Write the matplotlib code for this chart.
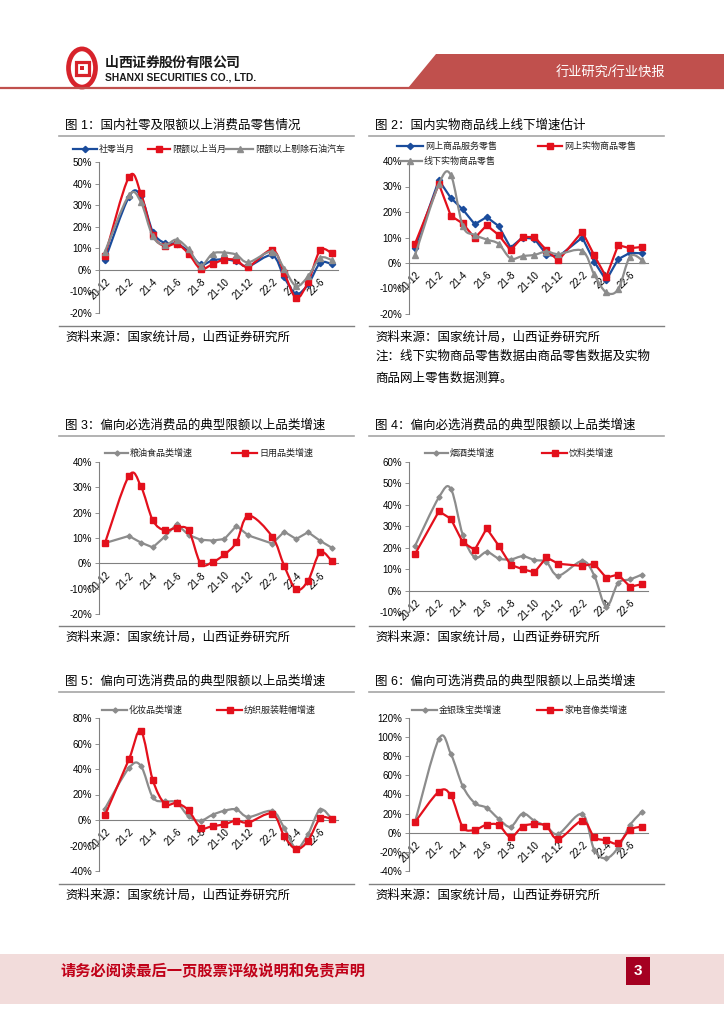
import matplotlib
matplotlib.use('Agg')
import matplotlib.pyplot as plt
import numpy as np
from matplotlib.path import Path
from matplotlib.patches import PathPatch, Polygon, Circle, Rectangle
from matplotlib.lines import Line2D

plt.rcParams['font.family'] = ['Liberation Sans', 'Noto Sans CJK SC']
plt.rcParams['axes.unicode_minus'] = False

W, H = 724, 1024

# category axis: Jan is merged into Feb, so 21-1 and 22-1 carry no value
months = ['20-12', '21-1', '21-2', '21-3', '21-4', '21-5', '21-6', '21-7', '21-8',
          '21-9', '21-10', '21-11', '21-12', '22-1', '22-2', '22-3', '22-4',
          '22-5', '22-6', '22-7']
tick_labels = months[::2]
data_months = [m for m in months if m not in ('21-1', '22-1')]

# chart 1
retail_total = [4.6, 33.8, 34.2, 17.7, 12.4, 12.1, 8.5, 2.5, 4.4, 4.9, 3.9, 1.7,
                6.7, -3.5, -11.1, -6.7, 3.1, 2.7]
retail_above = [6.5, 43.0, 35.5, 16.3, 11.0, 12.0, 7.5, 0.5, 2.6, 4.8, 4.5, 1.5,
                9.3, -1.5, -13.0, -5.6, 9.0, 7.6]
retail_above_ex = [8.5, 34.5, 31.5, 15.5, 11.5, 14.0, 9.5, 2.0, 7.5, 8.0, 7.0, 3.5,
                   8.5, 0.5, -7.5, -3.0, 5.5, 4.5]
# chart 2
online_all = [5.8, 32.5, 25.5, 21.0, 15.2, 18.0, 14.5, 6.0, 10.0, 9.5, 3.3, 2.5,
              10.0, 0.5, -6.8, 1.5, 4.0, 3.8]
online_goods = [7.5, 31.0, 18.5, 15.5, 9.8, 14.8, 11.0, 5.0, 10.2, 10.2, 5.0, 1.0,
                12.3, 3.0, -5.5, 7.0, 5.8, 6.3]
offline_goods = [3.0, 31.0, 34.5, 14.5, 11.0, 9.2, 7.5, 1.8, 2.7, 3.2, 4.5, 3.5,
                 4.8, -4.5, -11.5, -10.3, 2.5, 1.2]
# chart 3
grain_oil = [8.0, 10.8, 8.2, 6.3, 10.5, 15.5, 11.2, 9.3, 9.0, 9.6, 14.8, 11.0,
             7.8, 12.5, 9.6, 12.3, 8.9, 6.1]
daily_use = [8.0, 34.5, 30.5, 17.0, 13.0, 14.0, 13.0, 0.0, 0.5, 3.5, 8.3, 18.8,
             10.5, -1.0, -10.3, -6.8, 4.3, 0.8]
# chart 4
tobacco = [20.8, 43.5, 47.5, 26.0, 15.5, 18.0, 15.0, 14.5, 16.0, 14.3, 13.3, 7.0,
           13.8, 7.0, -7.5, 3.5, 5.2, 7.5]
beverage = [17.0, 37.0, 33.5, 22.5, 19.0, 29.0, 21.0, 12.0, 10.0, 8.5, 15.5, 12.5,
            11.5, 12.5, 6.0, 7.5, 1.8, 3.0]
# chart 5
cosmetics = [9.0, 40.7, 42.5, 17.8, 14.6, 13.8, 2.8, -0.5, 4.1, 7.3, 8.3, 2.4,
             7.0, -6.3, -22.3, -11.0, 8.1, 0.7]
clothing = [3.8, 47.5, 69.9, 31.4, 12.8, 13.2, 7.5, -6.0, -4.8, -3.3, -0.5, -2.0,
            4.9, -12.7, -22.8, -16.2, 1.2, 0.8]
# chart 6
jewelry = [11.0, 98.1, 82.5, 48.7, 31.1, 26.1, 14.6, 6.2, 20.0, 12.5, 6.8, -1.2,
           19.5, -17.9, -26.7, -15.5, 8.0, 22.1]
appliance = [11.0, 43.0, 39.0, 6.0, 3.0, 8.5, 8.0, -4.5, 6.5, 9.0, 7.0, -6.5,
             12.5, -4.5, -8.0, -11.0, 3.0, 6.5]

BLUE = '#1A4C9C'
RED = '#E3101C'
GRAY = '#8C8C8C'
BANNER = '#C0504D'
xpos = [months.index(m) for m in data_months]


def fx(x):
    return x / W


def fy(y):
    return 1 - y / H


def smooth_path(xs, ys):
    pts = np.column_stack([xs, ys]).astype(float)
    n = len(pts)
    verts, codes = [pts[0]], [Path.MOVETO]
    for i in range(n - 1):
        p0 = pts[i - 1] if i > 0 else pts[i]
        p1, p2 = pts[i], pts[i + 1]
        p3 = pts[i + 2] if i + 2 < n else pts[i + 1]
        verts += [p1 + (p2 - p0) / 6, p2 - (p3 - p1) / 6, p2]
        codes += [Path.CURVE4] * 3
    return Path(verts, codes)


def add_chart(fig, left, top, right, bottom, ylim, step):
    ax = fig.add_axes([fx(left), fy(bottom), (right - left) / W, (bottom - top) / H])
    ax.set_xlim(-0.5, len(months) - 0.5)
    ax.set_ylim(*ylim)
    ax.patch.set_alpha(0)
    for s in ('top', 'right'):
        ax.spines[s].set_visible(False)
    ax.spines['left'].set_color('#808080')
    ax.spines['left'].set_linewidth(0.8)
    ax.spines['bottom'].set_position(('data', 0))
    ax.spines['bottom'].set_color('#808080')
    ax.spines['bottom'].set_linewidth(0.8)
    yt = np.arange(ylim[0], ylim[1] + 1, step)
    ax.set_yticks(yt)
    ax.set_yticklabels([f'{v:.0f}%' for v in yt])
    ax.tick_params(axis='y', direction='out', length=3, width=0.6, color='#808080',
                   labelsize=7, pad=2)
    ax.set_xticks(range(0, len(months), 2))
    ax.set_xticklabels(tick_labels, rotation=45, ha='right', va='top',
                       rotation_mode='anchor')
    ax.tick_params(axis='x', length=0, labelsize=7, pad=5)
    return ax


def draw_series(ax, values, color, marker, ms, smooth, z):
    if smooth:
        ax.add_patch(PathPatch(smooth_path(xpos, values), fill=False, edgecolor=color,
                               lw=1.6, zorder=z, joinstyle='round', capstyle='round'))
    else:
        ax.plot(xpos, values, color=color, lw=1.6, zorder=z, solid_joinstyle='round')
    ax.plot(xpos, values, ls='none', marker=marker, ms=ms, color=color, zorder=z + 0.5)


def legend_item(fig, x0, x1, y, color, marker, ms, text):
    fig.add_artist(Line2D([fx(x0), fx(x1)], [fy(y), fy(y)], color=color, lw=1.6,
                          transform=fig.transFigure))
    fig.add_artist(Line2D([fx((x0 + x1) / 2)], [fy(y)], marker=marker, ms=ms,
                          color=color, transform=fig.transFigure))
    fig.text(fx(x1 + 2), fy(y), text, fontsize=6.5, va='center', ha='left',
             color='#222222')


def frame_text(fig, x, title_y, source_y, title):
    fig.text(fx(x + 6), fy(title_y), title, fontsize=9, va='center', ha='left')
    fig.add_artist(Line2D([fx(x), fx(x + 295)], [fy(title_y + 10)] * 2,
                          color='#A6A6A6', lw=1.2, transform=fig.transFigure))
    fig.add_artist(Line2D([fx(x), fx(x + 295)], [fy(source_y - 11)] * 2,
                          color='#808080', lw=1.0, transform=fig.transFigure))
    fig.text(fx(x + 6), fy(source_y), '资料来源：国家统计局，山西证券研究所', fontsize=9,
             va='center', ha='left')


fig = plt.figure(figsize=(W / 100, H / 100), dpi=100)

# header
fig.add_artist(Circle((fx(82), fy(68)), 13.5 / W, transform=fig.transFigure,
                      facecolor='none', edgecolor='#D7232B', lw=3.4))
fig.add_artist(Rectangle((fx(75.5), fy(74.5)), 13 / W, 13 / H, transform=fig.transFigure,
                         facecolor='none', edgecolor='#D7232B', lw=2.3))
fig.add_artist(Rectangle((fx(80), fy(70)), 4 / W, 4 / H, transform=fig.transFigure,
                         facecolor='#D7232B', edgecolor='none'))
for i, ch in enumerate('山西证券股份有限公司'):
    fig.text(fx(105 + i * 13.4), fy(63), ch, fontsize=10, fontweight='bold',
             va='center', ha='left', color='#1A1A1A')
fig.text(fx(105), fy(78), 'SHANXI SECURITIES CO., LTD.', fontsize=7.4,
         fontweight='bold', va='center', ha='left', color='#1A1A1A')
fig.add_artist(Polygon([(fx(436), fy(54)), (fx(724), fy(54)), (fx(724), fy(88)),
                        (fx(408), fy(88))], closed=True, transform=fig.transFigure,
                       facecolor=BANNER, edgecolor='none'))
fig.add_artist(Line2D([0, 1], [fy(88), fy(88)], color=BANNER, lw=1.6,
                      transform=fig.transFigure))
fig.text(fx(610), fy(73), '行业研究/行业快报', fontsize=9.5, color='white',
         va='center', ha='center')

# chart 1
frame_text(fig, 59, 126, 337, '图 1：国内社零及限额以上消费品零售情况')
ax1 = add_chart(fig, 99, 162, 338, 313, (-20, 50), 10)
draw_series(ax1, retail_total, BLUE, 'D', 3.2, True, 3)
draw_series(ax1, retail_above, RED, 's', 4.2, True, 4)
draw_series(ax1, retail_above_ex, GRAY, '^', 4.2, True, 5)
legend_item(fig, 73, 97, 149, BLUE, 'D', 3.2, '社零当月')
legend_item(fig, 148, 170, 149, RED, 's', 4.2, '限额以上当月')
legend_item(fig, 226, 253, 149, GRAY, '^', 4.2, '限额以上剔除石油汽车')

# chart 2
frame_text(fig, 369, 126, 337, '图 2：国内实物商品线上线下增速估计')
ax2 = add_chart(fig, 409, 161, 648, 314, (-20, 40), 10)
draw_series(ax2, online_all, BLUE, 'D', 3.2, False, 3)
draw_series(ax2, online_goods, RED, 's', 4.2, False, 4)
draw_series(ax2, offline_goods, GRAY, '^', 4.2, True, 5)
legend_item(fig, 397, 423, 146, BLUE, 'D', 3.2, '网上商品服务零售')
legend_item(fig, 538, 562, 146, RED, 's', 4.2, '网上实物商品零售')
legend_item(fig, 398, 422, 161, GRAY, '^', 4.2, '线下实物商品零售')
fig.text(fx(375), fy(357), '注：线下实物商品零售数据由商品零售数据及实物', fontsize=9,
         va='center', ha='left')
fig.text(fx(375), fy(379), '商品网上零售数据测算。', fontsize=9, va='center', ha='left')

# chart 3
frame_text(fig, 59, 426, 637, '图 3：偏向必选消费品的典型限额以上品类增速')
ax3 = add_chart(fig, 99, 462, 338, 614, (-20, 40), 10)
draw_series(ax3, grain_oil, GRAY, 'D', 2.6, False, 3)
draw_series(ax3, daily_use, RED, 's', 4.2, True, 4)
legend_item(fig, 105, 128, 453, GRAY, 'D', 2.6, '粮油食品类增速')
legend_item(fig, 232, 257, 453, RED, 's', 4.2, '日用品类增速')

# chart 4
frame_text(fig, 369, 426, 637, '图 4：偏向必选消费品的典型限额以上品类增速')
ax4 = add_chart(fig, 409, 462, 648, 612, (-10, 60), 10)
draw_series(ax4, tobacco, GRAY, 'D', 2.6, True, 3)
draw_series(ax4, beverage, RED, 's', 4.2, False, 4)
legend_item(fig, 425, 448, 453, GRAY, 'D', 2.6, '烟酒类增速')
legend_item(fig, 542, 567, 453, RED, 's', 4.2, '饮料类增速')

# chart 5
frame_text(fig, 59, 682, 895, '图 5：偏向可选消费品的典型限额以上品类增速')
ax5 = add_chart(fig, 99, 718, 338, 871, (-40, 80), 20)
draw_series(ax5, cosmetics, GRAY, 'D', 2.6, True, 3)
draw_series(ax5, clothing, RED, 's', 4.2, True, 4)
legend_item(fig, 102, 127, 710, GRAY, 'D', 2.6, '化妆品类增速')
legend_item(fig, 217, 242, 710, RED, 's', 4.2, '纺织服装鞋帽增速')

# chart 6
frame_text(fig, 369, 682, 895, '图 6：偏向可选消费品的典型限额以上品类增速')
ax6 = add_chart(fig, 409, 718, 648, 871, (-40, 120), 20)
draw_series(ax6, jewelry, GRAY, 'D', 2.6, True, 3)
draw_series(ax6, appliance, RED, 's', 4.2, True, 4)
legend_item(fig, 412, 437, 710, GRAY, 'D', 2.6, '金银珠宝类增速')
legend_item(fig, 537, 562, 710, RED, 's', 4.2, '家电音像类增速')

# footer
fig.add_artist(Rectangle((0, fy(1004)), 1, 50 / H, transform=fig.transFigure,
                         facecolor='#F2DCDB', edgecolor='none'))
fig.text(fx(60), fy(971), '请务必阅读最后一页股票评级说明和免责声明', fontsize=11,
         fontweight='bold', color='#C00018', va='center', ha='left')
fig.add_artist(Rectangle((fx(626), fy(985)), 24 / W, 28 / H, transform=fig.transFigure,
                         facecolor='#A50021', edgecolor='none'))
fig.text(fx(638), fy(971), '3', fontsize=11, fontweight='bold', color='white',
         va='center', ha='center')

fig.savefig('out.png', dpi=100)
